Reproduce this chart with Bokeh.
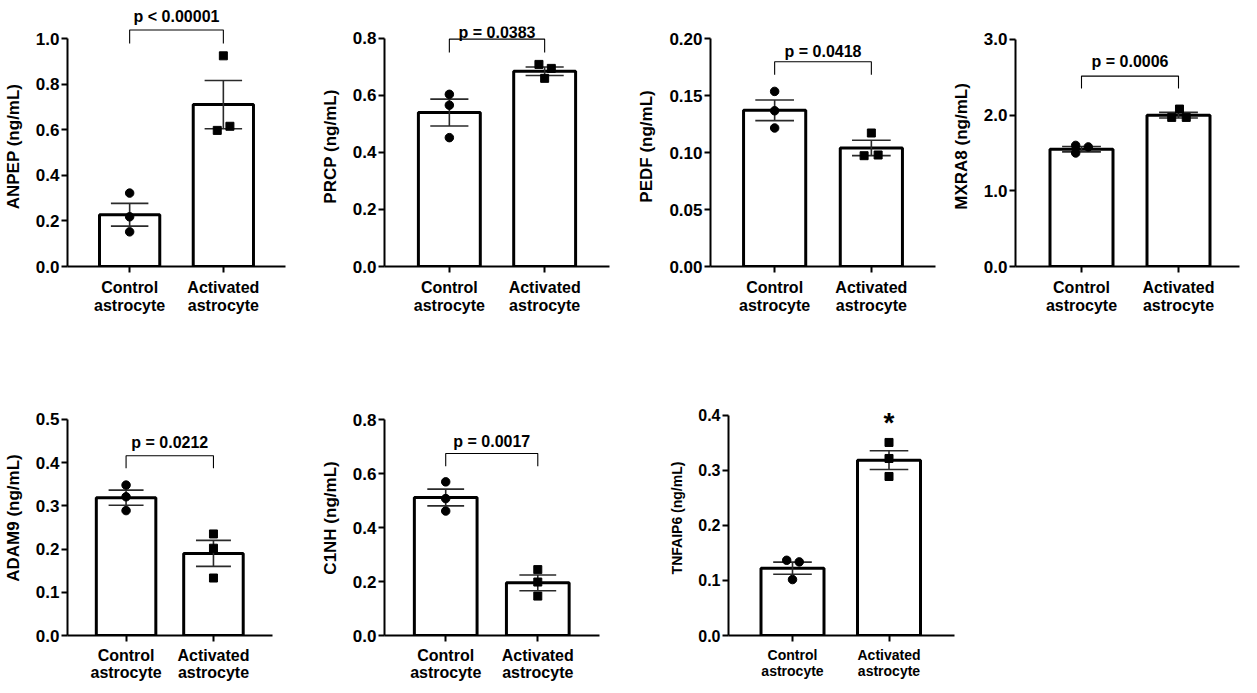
from bokeh.plotting import figure
from bokeh.layouts import column, row
from bokeh.models import Range1d, FixedTicker, Label, NumeralTickFormatter
from bokeh.embed import file_html
from bokeh.resources import INLINE

FONT = "Liberation Sans"

# ---------------- data ----------------
categories = ["Control\nastrocyte", "Activated\nastrocyte"]

anpep_ctrl = [0.322, 0.218, 0.152]
anpep_act = [0.924, 0.597, 0.615]
anpep_mean = [0.227, 0.710]
anpep_sem = [0.050, 0.106]

prcp_ctrl = [0.604, 0.566, 0.452]
prcp_act = [0.709, 0.695, 0.660]
prcp_mean = [0.540, 0.685]
prcp_sem = [0.047, 0.015]

pedf_ctrl = [0.1536, 0.1366, 0.1215]
pedf_act = [0.1171, 0.0972, 0.0978]
pedf_mean = [0.137, 0.104]
pedf_sem = [0.009, 0.0067]

mxra8_ctrl = [1.60, 1.58, 1.50]
mxra8_act = [2.08, 1.97, 1.97]
mxra8_mean = [1.55, 2.00]
mxra8_sem = [0.035, 0.037]

adam9_ctrl = [0.348, 0.321, 0.289]
adam9_act = [0.235, 0.202, 0.133]
adam9_mean = [0.319, 0.190]
adam9_sem = [0.0175, 0.030]

c1nh_ctrl = [0.569, 0.507, 0.461]
c1nh_act = [0.244, 0.198, 0.146]
c1nh_mean = [0.511, 0.195]
c1nh_sem = [0.031, 0.029]

tnfaip6_ctrl = [0.1366, 0.1337, 0.1016]
tnfaip6_act = [0.3506, 0.3215, 0.2888]
tnfaip6_mean = [0.1223, 0.3185]
tnfaip6_sem = [0.011, 0.017]

p_labels = ["p < 0.00001", "p = 0.0383", "p = 0.0418", "p = 0.0006",
            "p = 0.0212", "p = 0.0017", "*"]

ticks_anpep = [0.0, 0.2, 0.4, 0.6, 0.8, 1.0]
ticks_prcp = [0.0, 0.2, 0.4, 0.6, 0.8]
ticks_pedf = [0.0, 0.05, 0.10, 0.15, 0.20]
ticks_mxra8 = [0.0, 1.0, 2.0, 3.0]
ticks_adam9 = [0.0, 0.1, 0.2, 0.3, 0.4, 0.5]
ticks_c1nh = [0.0, 0.2, 0.4, 0.6, 0.8]
ticks_tnfaip6 = [0.0, 0.1, 0.2, 0.3, 0.4]

# ---------------- styling / layout (pixels) ----------------
# bracket levels (top, drop) and text position, in data units
bracket_anpep = [1.037, 0.978, None]
bracket_prcp = [0.7976, 0.751, 0.822]
bracket_pedf = [0.1796, 0.1682, 0.1884]
bracket_mxra8 = [2.516, 2.353, 2.714]
bracket_adam9 = [0.416, 0.387, 0.447]
bracket_c1nh = [0.674, 0.627, 0.718]
star_tnfaip6 = [0.386]

jit_anpep = ([0, 0, 0], [0, -0.065, 0.07])
jit_prcp = ([0, 0, 0], [-0.06, 0.07, 0])
jit_pedf = ([0, 0, 0], [0, -0.075, 0.07])
jit_mxra8 = ([-0.06, 0.07, -0.06], [0.01, -0.07, 0.08])
jit_none = ([0, 0, 0], [0, 0, 0])
jit_tnfaip6 = ([-0.06, 0.07, 0], [0, 0, 0])


def make_panel(label, ctrl, act, mean, sem, ticks, fmt, jit,
               fig_left, fig_right, fig_top, fig_bottom,
               ax_x0, ax_x1, c1, c2, y0px, ymax_px, frame_top,
               bracket=None, ptext=None, star=None,
               tick_fs="17px", cat_fs="16px", lab_fs="17px",
               cat_standoff=6, cat_lh=1.08, title_text=None):
    ymax = ticks[-1]
    scale = (y0px - ymax_px) / ymax
    spacing = c2 - c1
    x_start = 1 - (c1 - ax_x0) / spacing
    x_end = 2 + (ax_x1 - c2) / spacing
    y_end = (y0px - frame_top) / scale
    w = fig_right - fig_left
    h = fig_bottom - fig_top
    p = figure(width=w, height=h, output_backend="svg", toolbar_location=None,
               x_range=Range1d(x_start, x_end), y_range=Range1d(0, y_end),
               min_border_left=ax_x0 - fig_left, min_border_right=fig_right - ax_x1,
               min_border_top=frame_top - fig_top, min_border_bottom=fig_bottom - y0px)
    p.outline_line_color = None
    p.grid.visible = False
    p.background_fill_color = "white"
    p.border_fill_color = "white"
    if title_text is not None:
        p.title.text = title_text
        p.title.align = "center"
        p.title.text_font = FONT
        p.title.text_font_style = "bold"
        p.title.text_font_size = "16px"
        p.title.text_color = "black"
        p.title.standoff = 3
        p.title.offset = 0

    xs = [1, 2]
    bw = 63 / spacing
    p.vbar(x=xs, top=mean, width=bw, fill_color="white", line_color="black",
           line_width=3)
    # error bars
    lo = [m - s for m, s in zip(mean, sem)]
    hi = [m + s for m, s in zip(mean, sem)]
    cap = 0.4
    ecol = "#2a2a2a"
    p.segment(x0=xs, y0=lo, x1=xs, y1=hi, line_color=ecol, line_width=1.6)
    p.segment(x0=[x - cap / 2 for x in xs], y0=hi, x1=[x + cap / 2 for x in xs],
              y1=hi, line_color=ecol, line_width=1.6)
    p.segment(x0=[x - cap / 2 for x in xs], y0=lo, x1=[x + cap / 2 for x in xs],
              y1=lo, line_color=ecol, line_width=1.6)
    # points
    p.scatter(x=[1 + j for j in jit[0]], y=ctrl, marker="circle", size=8.5,
              fill_color="black", line_color="black")
    p.scatter(x=[2 + j for j in jit[1]], y=act, marker="square", size=8,
              fill_color="black", line_color="black")

    if bracket is not None:
        top, drop, tb = bracket
        p.line(x=[1, 1, 2, 2], y=[drop, top, top, drop], line_color="black",
               line_width=1.1)
        if tb is not None:
            p.add_layout(Label(x=1.5, y=tb, text=ptext, text_align="center",
                               text_baseline="alphabetic", text_font=FONT,
                               text_font_style="bold", text_font_size="16px",
                               text_color="black"))
    if star is not None:
        p.add_layout(Label(x=2, y=star[0], text=ptext, text_align="center",
                           text_baseline="middle", text_font=FONT,
                           text_font_style="bold", text_font_size="28px",
                           text_color="black"))

    # axes
    ya = p.yaxis[0]
    ya.ticker = FixedTicker(ticks=ticks)
    ya.formatter = NumeralTickFormatter(format=fmt)
    ya.bounds = (0, ymax)
    ya.axis_label = label
    ya.axis_label_text_font = FONT
    ya.axis_label_text_font_style = "bold"
    ya.axis_label_text_font_size = lab_fs
    ya.axis_label_text_color = "black"
    ya.axis_label_standoff = 10
    ya.major_label_text_font = FONT
    ya.major_label_text_font_style = "bold"
    ya.major_label_text_font_size = tick_fs
    ya.major_label_text_color = "black"
    ya.major_label_standoff = 2
    ya.major_tick_out = 6
    ya.major_tick_in = 0
    ya.minor_tick_out = 0
    ya.minor_tick_in = 0
    ya.axis_line_width = 2
    ya.major_tick_line_width = 2
    ya.axis_line_color = "black"
    ya.major_tick_line_color = "black"

    xa = p.xaxis[0]
    xa.ticker = FixedTicker(ticks=xs)
    xa.major_label_overrides = {1: categories[0], 2: categories[1]}
    xa.major_label_text_font = FONT
    xa.major_label_text_font_style = "bold"
    xa.major_label_text_font_size = cat_fs
    xa.major_label_text_color = "black"
    xa.major_label_text_line_height = cat_lh
    xa.major_label_standoff = cat_standoff
    xa.major_tick_out = 6
    xa.major_tick_in = 0
    xa.minor_tick_out = 0
    xa.minor_tick_in = 0
    xa.axis_line_width = 2
    xa.major_tick_line_width = 2
    xa.axis_line_color = "black"
    xa.major_tick_line_color = "black"
    return p


T0, T1 = 0, 342
B0, B1 = 342, 685

p1 = make_panel("ANPEP (ng/mL)", anpep_ctrl, anpep_act, anpep_mean, anpep_sem,
                ticks_anpep, "0.0", jit_anpep, 8, 325, T0, T1,
                65, 293, 130, 228, 266, 38, 26, bracket_anpep, p_labels[0],
                title_text=p_labels[0])
p2 = make_panel("PRCP (ng/mL)", prcp_ctrl, prcp_act, prcp_mean, prcp_sem,
                ticks_prcp, "0.0", jit_prcp, 325, 642, T0, T1,
                388, 617, 454, 551, 267, 38, 26, bracket_prcp, p_labels[1])
p3 = make_panel("PEDF (ng/mL)", pedf_ctrl, pedf_act, pedf_mean, pedf_sem,
                ticks_pedf, "0.00", jit_pedf, 642, 955, T0, T1,
                715, 943, 780, 878, 266, 38, 26, bracket_pedf, p_labels[2])
p4 = make_panel("MXRA8 (ng/mL)", mxra8_ctrl, mxra8_act, mxra8_mean, mxra8_sem,
                ticks_mxra8, "0.0", jit_mxra8, 955, 1249, T0, T1,
                1023, 1247, 1089, 1186, 267, 39, 26, bracket_mxra8, p_labels[3])

p5 = make_panel("ADAM9 (ng/mL)", adam9_ctrl, adam9_act, adam9_mean, adam9_sem,
                ticks_adam9, "0.0", jit_none, 8, 325, B0, B1,
                63, 280, 125, 217.5, 636, 419, 400, bracket_adam9, p_labels[4],
                cat_standoff=5, cat_lh=1.05)
p6 = make_panel("C1NH (ng/mL)", c1nh_ctrl, c1nh_act, c1nh_mean, c1nh_sem,
                ticks_c1nh, "0.0", jit_none, 325, 670, B0, B1,
                391, 607, 452.5, 545, 635, 419, 400, bracket_c1nh, p_labels[5],
                cat_standoff=5, cat_lh=1.05)
p7 = make_panel("TNFAIP6 (ng/mL)", tnfaip6_ctrl, tnfaip6_act, tnfaip6_mean,
                tnfaip6_sem, ticks_tnfaip6, "0.0", jit_tnfaip6, 670, 1002, B0, B1,
                736, 962, 800, 896.5, 639, 415, 400, None, p_labels[6],
                star=star_tnfaip6, tick_fs="16px", cat_fs="14px", lab_fs="14px",
                cat_standoff=5, cat_lh=1.05)

layout = column(row(p1, p2, p3, p4), row(p5, p6, p7))
open("out.html", "w").write(file_html(layout, INLINE))
